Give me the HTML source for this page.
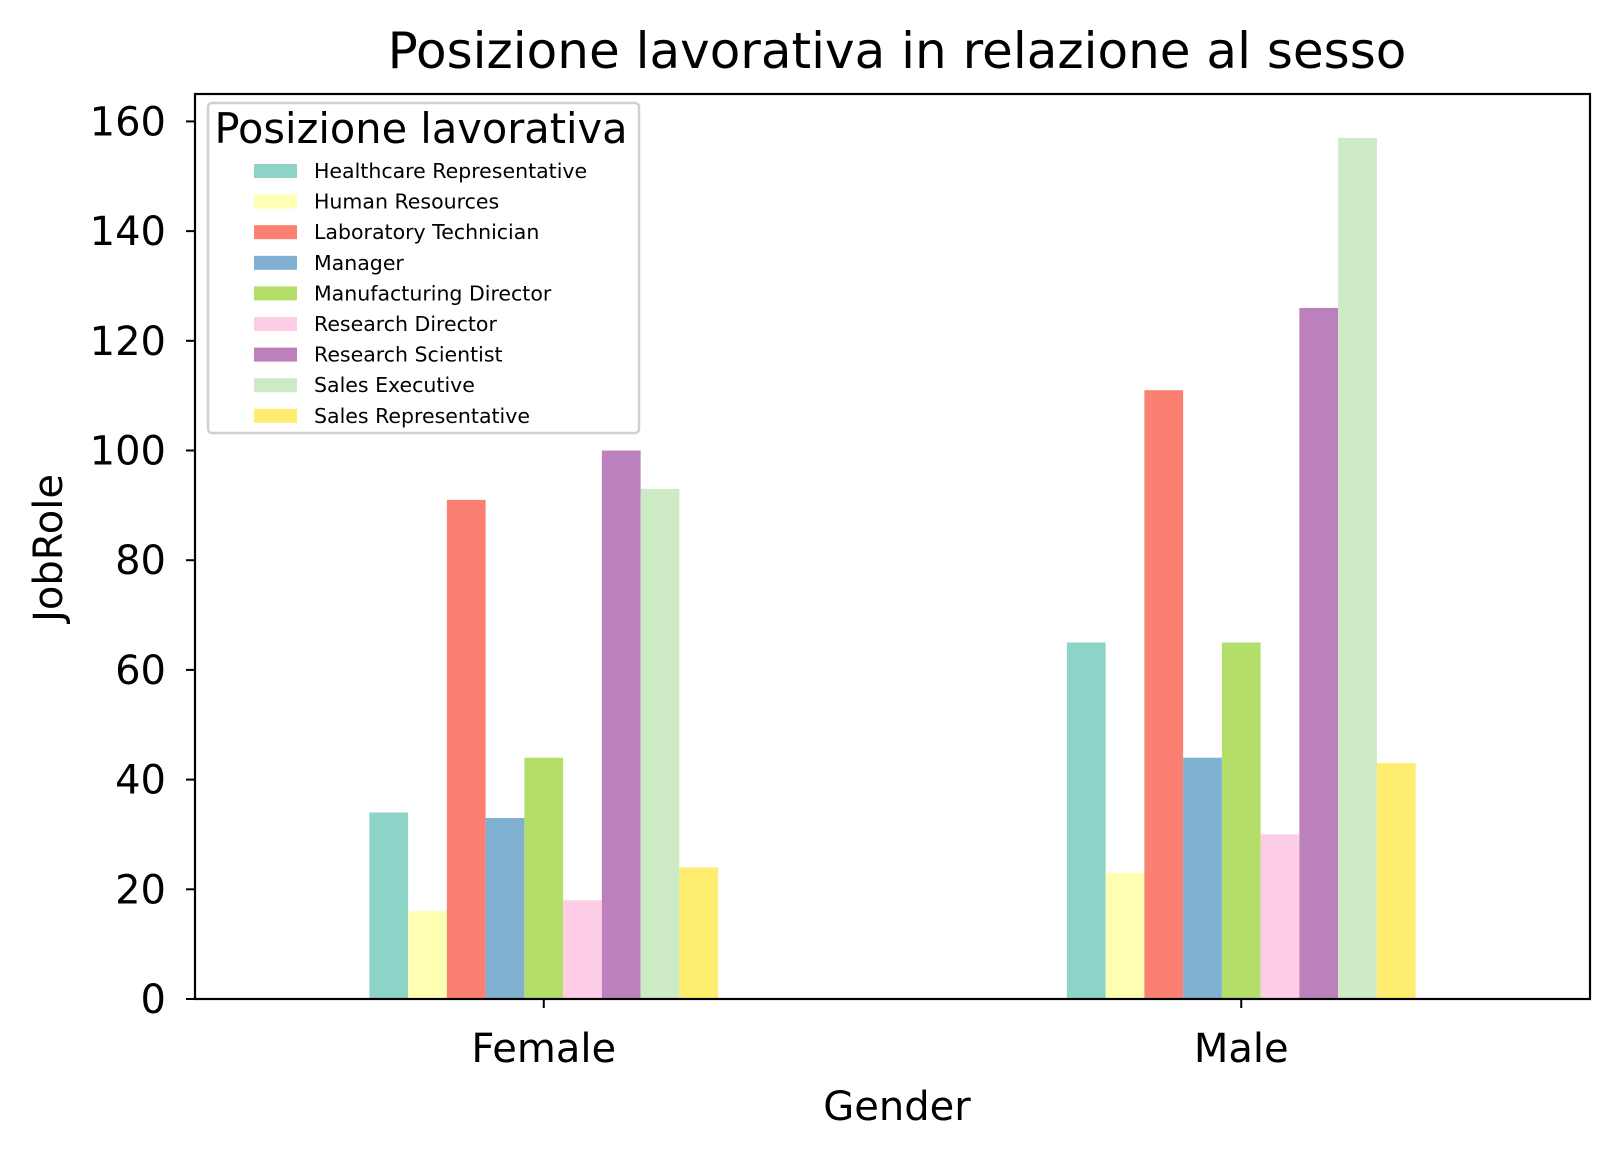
<!DOCTYPE html>
<html><head><meta charset="utf-8">
<style>
body{margin:0;background:#fff;}
svg text{font-family:"DejaVu Sans","Liberation Sans",sans-serif;fill:#000;}
</style></head>
<body>
<svg id="chart" width="1620" height="1154" xmlns="http://www.w3.org/2000/svg">
<rect width="1620" height="1154" fill="#fff"/>
<text x="897" y="68" font-size="50" text-anchor="middle">Posizione lavorativa in relazione al sesso</text>
<g id="bars"></g>
<g id="yticks"></g>
<g id="xticks"></g>
<rect x="195" y="94" width="1395" height="905" fill="none" stroke="#000" stroke-width="2.2"/>
<text transform="translate(62,548) rotate(-90)" font-size="40" text-anchor="middle">JobRole</text>
<text x="897" y="1120" font-size="40" text-anchor="middle">Gender</text>
<g id="legend"></g>
</svg>
<script>
const categories = ["Female", "Male"];
const roles = ["Healthcare Representative","Human Resources","Laboratory Technician","Manager","Manufacturing Director","Research Director","Research Scientist","Sales Executive","Sales Representative"];
const femaleValues = [34,16,91,33,44,18,100,93,24];
const maleValues = [65,23,111,44,65,30,126,157,43];
const yTicks = [0,20,40,60,80,100,120,140,160];
const colors = ["#8dd3c7","#ffffb3","#fb8072","#80b1d3","#b3de69","#fccde5","#bc80bd","#ccebc5","#ffed6f"];
const series = [femaleValues, maleValues];
const NS = "http://www.w3.org/2000/svg";
const L=195,R=1590,T=94,B=999,YMAX=165;
const y = v => B - v/YMAX*(B-T);
const x = u => L + (u+0.5)/2*(R-L);
const bw = 0.5/roles.length;
const bars = document.getElementById('bars');
categories.forEach((c,ci)=>{
  roles.forEach((r,ri)=>{
    const v = series[ci][ri];
    const rect = document.createElementNS(NS,'rect');
    const x0 = x(ci - 0.25 + ri*bw);
    rect.setAttribute('x', x0);
    rect.setAttribute('width', x(ci - 0.25 + (ri+1)*bw) - x0);
    rect.setAttribute('y', y(v));
    rect.setAttribute('height', y(0)-y(v));
    rect.setAttribute('fill', colors[ri]);
    
    
    bars.appendChild(rect);
  });
});
const yt = document.getElementById('yticks');
yTicks.forEach(t=>{
  const ln = document.createElementNS(NS,'line');
  ln.setAttribute('x1',L-9);ln.setAttribute('x2',L);ln.setAttribute('y1',y(t));ln.setAttribute('y2',y(t));
  ln.setAttribute('stroke','#000');ln.setAttribute('stroke-width','2');
  
  
  yt.appendChild(ln);
  const tx = document.createElementNS(NS,'text');
  tx.setAttribute('x',L-29);tx.setAttribute('y',y(t)+14);tx.setAttribute('font-size','40');tx.setAttribute('text-anchor','end');
  tx.textContent=t;
  
  
  yt.appendChild(tx);
});
const xt = document.getElementById('xticks');
categories.forEach((c,ci)=>{
  const ln = document.createElementNS(NS,'line');
  ln.setAttribute('x1',x(ci));ln.setAttribute('x2',x(ci));ln.setAttribute('y1',B);ln.setAttribute('y2',B+9);
  ln.setAttribute('stroke','#000');ln.setAttribute('stroke-width','2');
  
  
  xt.appendChild(ln);
  const tx = document.createElementNS(NS,'text');
  tx.setAttribute('x',x(ci));tx.setAttribute('y',1062);tx.setAttribute('font-size','40');tx.setAttribute('text-anchor','middle');
  tx.textContent=c;
  
  
  xt.appendChild(tx);
});
const lg = document.getElementById('legend');
const box = document.createElementNS(NS,'rect');
box.setAttribute('x',208);box.setAttribute('y',103);box.setAttribute('width',431);box.setAttribute('height',330);box.setAttribute('rx',4);
box.setAttribute('fill','#fff');box.setAttribute('stroke','#d0d0d0');box.setAttribute('stroke-width','2.5');


lg.appendChild(box);
const lt = document.createElementNS(NS,'text');
lt.setAttribute('x',421);lt.setAttribute('y',143);lt.setAttribute('font-size','41.5');lt.setAttribute('text-anchor','middle');
lt.textContent='Posizione lavorativa';


lg.appendChild(lt);
roles.forEach((r,ri)=>{
  const cy = 171 + ri*30.6;
  const p = document.createElementNS(NS,'rect');
  p.setAttribute('x',254);p.setAttribute('y',cy-7);p.setAttribute('width',43);p.setAttribute('height',14);p.setAttribute('fill',colors[ri]);
  
  
  lg.appendChild(p);
  const t = document.createElementNS(NS,'text');
  t.setAttribute('x',314);t.setAttribute('y',cy+7);t.setAttribute('font-size','20.5');
  t.textContent=r;
  
  
  lg.appendChild(t);
});
</script>
</body></html>
